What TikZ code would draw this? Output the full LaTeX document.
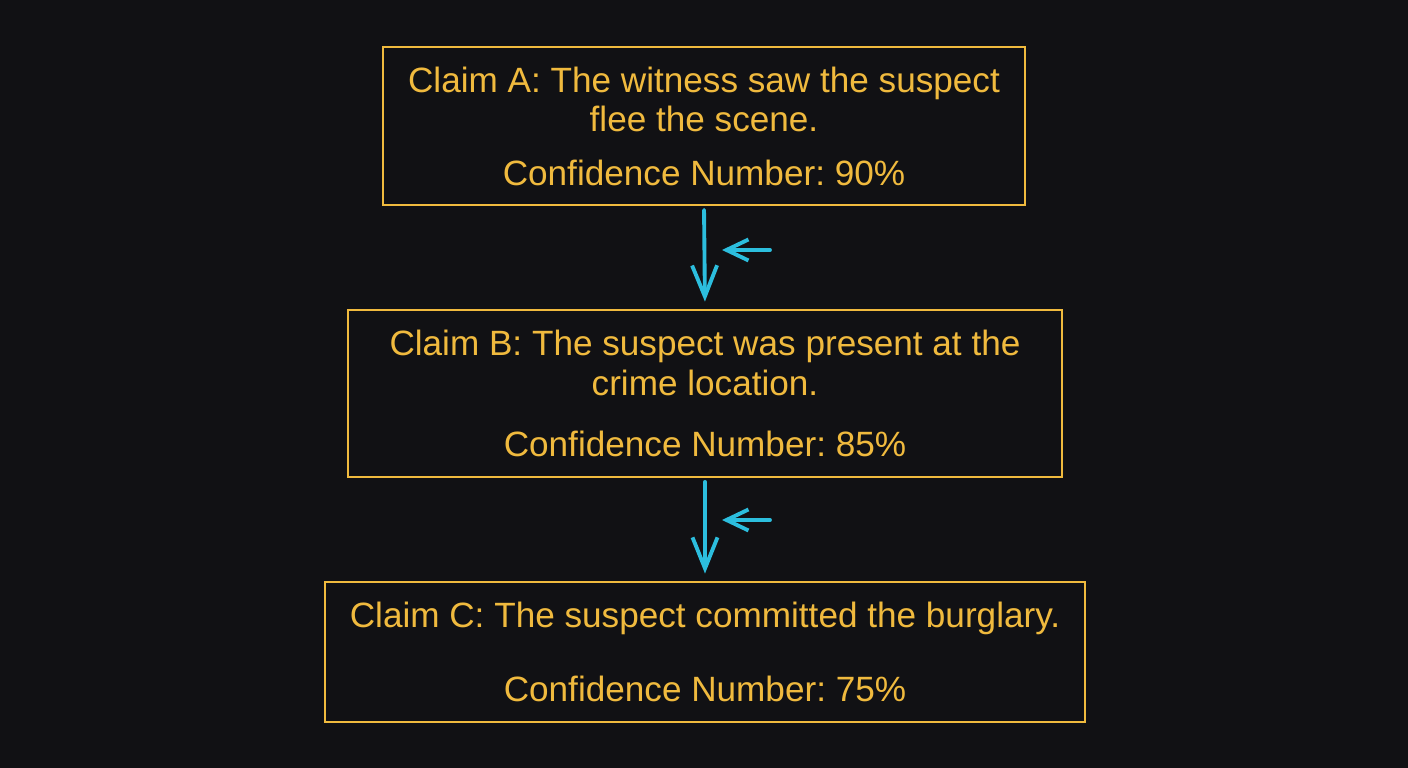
\documentclass[tikz,border=0pt]{standalone}
\usepackage{fontspec}
\setmainfont{Liberation Sans}
\usetikzlibrary{arrows.meta}
\frenchspacing
\definecolor{bg}{RGB}{17,17,20}
\definecolor{claimgold}{RGB}{240,186,62}
\definecolor{linkcyan}{RGB}{44,190,222}
\tikzset{
    claimbox/.style={draw=claimgold, line width=1.6pt, text=claimgold, align=center,
        inner sep=0pt, font=\fontsize{20}{22.5}\selectfont},
    flow/.style={draw=linkcyan, line width=2.2pt, line cap=round,
        -{Straight Barb[length=0.62cm, width=0.5cm, line width=2.2pt]}},
    hint/.style={draw=linkcyan, line width=2.2pt, line cap=round,
        -{Straight Barb[length=0.44cm, width=0.42cm, line width=2.2pt]}}
}
\begin{document}
\begin{tikzpicture}
    \fill[bg] (0,0) rectangle (28.16,15.36);
    \useasboundingbox (0,0) rectangle (28.16,15.36);
    \node[claimbox, minimum width=12.84cm, minimum height=3.16cm] (A) at (14.08,12.84)
        {Claim A: The witness saw the suspect\\flee the scene.\\[0.28cm]Confidence Number: 90\%};
    \node[claimbox, minimum width=14.28cm, minimum height=3.34cm] (B) at (14.10,7.49)
        {Claim B: The suspect was present at the\\crime location.\\[0.44cm]Confidence Number: 85\%};
    \node[claimbox, minimum width=15.20cm, minimum height=2.80cm] (C) at (14.10,2.32)
        {Claim C: The suspect committed the burglary.\\[0.7cm]Confidence Number: 75\%};
    \coordinate (r1) at (15.40,10.36);
    \coordinate (l1) at (14.44,10.36);
    \coordinate (r2) at (15.40,4.96);
    \coordinate (l2) at (14.44,4.96);
    \draw[flow, shorten <=2pt, shorten >=4pt] (A.south) -- (B.north);
    \draw[flow, shorten <=2pt, shorten >=4pt] (B.south) -- (C.north);
    \draw[hint] (r1) -- (l1);
    \draw[hint] (r2) -- (l2);
\end{tikzpicture}
\end{document}
